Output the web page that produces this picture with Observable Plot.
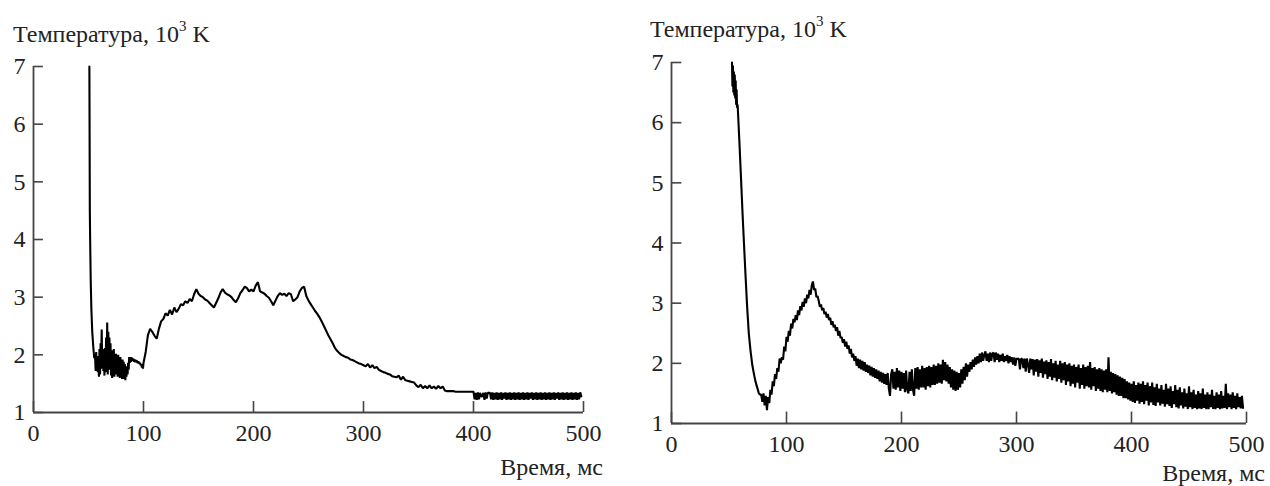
<!DOCTYPE html>
<html>
<head>
<meta charset="utf-8">
<script src="https://cdn.jsdelivr.net/npm/d3@7"></script>
<script src="https://cdn.jsdelivr.net/npm/@observablehq/plot@0.6"></script>
<style>
  body { margin: 0; background: #fff; }
  #page { position: relative; width: 1270px; height: 486px; overflow: hidden;
          font-family: "Liberation Serif", "DejaVu Serif", "Noto Serif", "Times New Roman", Times, serif; color: #222; }
  #page svg { position: absolute; top: 0; }
  .lbl { position: absolute; font-size: 24px; line-height: 24px; white-space: nowrap; }
  .lbl sup { font-size: 15px; line-height: 0; position: relative; top: -2px; }
</style>
</head>
<body>
<div id="page">
  <div class="lbl" style="left:13px; top:22px;">Температура, 10<sup>3</sup> K</div>
  <div class="lbl" style="left:650px; top:17px;">Температура, 10<sup>3</sup> K</div>
  <div class="lbl" style="right:667px; top:455px; text-align:right;">Время, мс</div>
  <div class="lbl" style="right:5px; top:461px; text-align:right;">Время, мс</div>
</div>
<script>
// Axis ticks
const timeTicks = [0, 100, 200, 300, 400, 500];
const tempTicks = [1, 2, 3, 4, 5, 6, 7];

// ---- Left record: temperature (10^3 K) vs time (ms) ----
// initial flash, irregular samples
const leftFallTime = [50.8, 51.0, 51.2, 51.5, 52.0, 52.6, 53.4, 54.3, 55.2];
const leftFallTemp = [7.0, 5.8, 4.5, 4.0, 3.3, 2.8, 2.4, 2.15, 1.95];

// 56..99.5 ms, every 0.5 ms
const leftEarlyStart = 56;
const leftEarly = [
  1.95, 1.72, 2.05, 1.80, 1.98, 1.70, 1.88, 1.62, 2.10, 1.66,
  2.20, 1.90, 2.44, 1.76, 2.10, 1.72, 1.95, 1.64, 2.12, 1.70,
  2.30, 1.78, 2.56, 1.66, 2.40, 1.74, 2.30, 1.80, 2.20, 1.64,
  2.08, 1.60, 1.98, 1.70, 2.10, 1.62, 1.96, 1.72, 2.02, 1.66,
  1.94, 1.62, 2.00, 1.68, 1.90, 1.60, 1.96, 1.66, 1.86, 1.58,
  1.92, 1.64, 1.88, 1.58, 1.84, 1.56, 1.80, 1.62, 1.76, 1.66,
  1.86, 1.74, 1.96, 1.86, 1.94, 1.88, 1.96, 1.90, 1.94, 1.89,
  1.93, 1.88, 1.92, 1.87, 1.91, 1.88, 1.90, 1.86, 1.89, 1.85,
  1.88, 1.84, 1.86, 1.82, 1.84, 1.78, 1.82, 1.76
];

// 100..350 ms, every 2 ms
const leftMidStart = 100;
const leftMid = [
  1.86, 2.05, 2.34, 2.45, 2.40, 2.33, 2.28, 2.45, 2.58, 2.62,
  2.72, 2.68, 2.78, 2.70, 2.82, 2.74, 2.80, 2.88, 2.86, 2.93,
  2.90, 2.97, 2.93, 3.05, 3.14, 3.06, 3.02, 3.00, 2.96, 2.94,
  2.90, 2.86, 2.82, 2.90, 2.98, 3.08, 3.14, 3.08, 3.05, 3.03,
  3.00, 2.95, 2.91, 2.98, 3.07, 3.12, 3.18, 3.16, 3.10, 3.13,
  3.10, 3.20, 3.26, 3.10, 3.08, 3.06, 3.02, 2.99, 2.93, 2.86,
  2.94, 3.02, 3.07, 3.04, 3.06, 3.02, 3.07, 3.05, 2.93, 2.96,
  3.00, 3.10, 3.16, 3.18, 3.02, 2.94, 2.88, 2.82, 2.76, 2.71,
  2.65, 2.58, 2.50, 2.42, 2.34, 2.27, 2.20, 2.12, 2.07, 2.03,
  2.00, 1.98, 1.96, 1.95, 1.92, 1.91, 1.89, 1.87, 1.85, 1.84,
  1.82, 1.80, 1.84, 1.78, 1.82, 1.77, 1.79, 1.74, 1.72, 1.70,
  1.69, 1.67, 1.66, 1.63, 1.62, 1.61, 1.64, 1.57, 1.62, 1.56,
  1.55, 1.54, 1.53, 1.52, 1.47, 1.44
];

// 352..398 ms, every 2 ms
const leftTailStart = 352;
const leftTail = [
  1.48, 1.42, 1.46, 1.42, 1.47, 1.42, 1.45, 1.41, 1.46, 1.42,
  1.45, 1.38, 1.37, 1.37, 1.37, 1.37, 1.36, 1.36, 1.36, 1.36,
  1.36, 1.36, 1.36, 1.36
];

// 400..498 ms, every 1 ms (digitiser toggling between two levels)
const leftFloorStart = 400;
const leftFloor = [
  1.36, 1.23, 1.34, 1.22, 1.35, 1.23, 1.34, 1.28, 1.28, 1.34,
  1.22, 1.35, 1.24, 1.34, 1.34, 1.34, 1.23, 1.35, 1.22, 1.34,
  1.23, 1.35, 1.22, 1.34, 1.23, 1.35, 1.22, 1.34, 1.24, 1.35,
  1.22, 1.34, 1.23, 1.35, 1.22, 1.34, 1.23, 1.35, 1.22, 1.34,
  1.23, 1.35, 1.22, 1.34, 1.23, 1.35, 1.22, 1.34, 1.23, 1.35,
  1.22, 1.34, 1.24, 1.35, 1.22, 1.34, 1.23, 1.35, 1.22, 1.34,
  1.23, 1.35, 1.22, 1.34, 1.23, 1.35, 1.22, 1.34, 1.23, 1.35,
  1.22, 1.34, 1.23, 1.35, 1.22, 1.34, 1.24, 1.35, 1.22, 1.34,
  1.23, 1.35, 1.22, 1.34, 1.23, 1.35, 1.22, 1.34, 1.23, 1.35,
  1.22, 1.34, 1.23, 1.35, 1.22, 1.34, 1.23, 1.35, 1.28
];

// ---- Right record ----
const rightFallTime = [52.6, 53.0, 53.4, 53.8, 54.2, 54.6, 55.0, 55.4, 55.8, 56.2, 56.6, 57.0, 57.5,
                       59.0, 60.5, 62.0, 63.0, 64.3, 65.8, 67.2, 68.7, 70.2, 71.6, 73.0, 74.5, 76.0, 77.0];
const rightFallTemp = [7.0, 6.6, 6.95, 6.5, 6.85, 6.45, 6.8, 6.4, 6.7, 6.3, 6.55, 6.25, 6.3,
                       5.7, 5.05, 4.4, 4.0, 3.49, 2.93, 2.5, 2.21, 1.98, 1.83, 1.7, 1.6, 1.5, 1.48];

// 78..127 ms, every 1 ms
const rightDipStart = 78;
const rightDip = [
  1.48, 1.36, 1.50, 1.30, 1.46, 1.22, 1.44, 1.34, 1.56, 1.48,
  1.70, 1.62, 1.82, 1.74, 1.92, 1.86, 2.08, 2.00, 2.10, 2.06,
  2.28, 2.20, 2.44, 2.36, 2.54, 2.46, 2.66, 2.58, 2.74, 2.68,
  2.80, 2.72, 2.88, 2.80, 2.95, 2.88, 3.02, 2.94, 3.08, 3.00,
  3.14, 3.08, 3.22, 3.14, 3.30, 3.36, 3.22, 3.24, 3.10, 3.12
];

// 128..257 ms, every 1 ms
const rightDecayStart = 128;
const rightDecay = [
  3.04, 2.94, 2.98, 2.88, 2.92, 2.82, 2.86, 2.76, 2.82, 2.72,
  2.76, 2.64, 2.70, 2.60, 2.64, 2.54, 2.60, 2.46, 2.54, 2.42,
  2.44, 2.34, 2.40, 2.28, 2.36, 2.24, 2.30, 2.16, 2.24, 2.10,
  2.16, 2.04, 2.12, 1.96, 2.08, 1.92, 2.06, 1.90, 2.04, 1.88,
  2.02, 1.86, 1.98, 1.84, 1.96, 1.80, 1.94, 1.78, 1.92, 1.76,
  1.90, 1.74, 1.88, 1.70, 1.86, 1.68, 1.84, 1.66, 1.82, 1.64,
  1.84, 1.58, 1.46, 1.82, 1.90, 1.58, 1.86, 1.56, 1.92, 1.60,
  1.88, 1.54, 1.86, 1.58, 1.84, 1.52, 1.88, 1.56, 1.50, 1.86,
  1.54, 1.90, 1.56, 1.46, 1.92, 1.58, 1.94, 1.56, 1.90, 1.60,
  1.96, 1.60, 1.92, 1.56, 1.94, 1.62, 1.96, 1.60, 1.94, 1.64,
  1.98, 1.64, 1.96, 1.66, 2.00, 1.68, 1.98, 1.66, 2.06, 1.72,
  2.02, 1.70, 1.98, 1.66, 1.94, 1.60, 1.90, 1.56, 1.88, 1.54,
  1.86, 1.56, 1.84, 1.60, 1.90, 1.66, 1.94, 1.72, 2.00, 1.78
];

// 258..337 ms, every 1 ms
const rightHumpStart = 258;
const rightHump = [
  1.98, 1.86, 2.02, 1.90, 2.06, 1.94, 2.10, 1.98, 2.12, 2.00,
  2.16, 2.02, 2.18, 2.04, 2.14, 2.20, 2.04, 2.16, 2.02, 2.18,
  2.04, 2.16, 2.18, 2.02, 2.18, 2.06, 2.16, 2.02, 2.14, 2.04,
  2.16, 2.02, 2.12, 2.04, 2.14, 2.00, 2.12, 2.02, 2.10, 1.98,
  2.10, 1.96, 2.08, 2.07, 2.08, 1.90, 2.08, 2.07, 1.92, 2.08,
  1.86, 2.08, 1.98, 1.84, 2.08, 1.90, 2.07, 1.80, 2.06, 1.86,
  2.07, 1.78, 2.05, 1.84, 2.08, 1.76, 2.03, 1.82, 2.05, 1.74,
  2.02, 1.78, 2.07, 1.72, 2.00, 1.76, 2.04, 1.70, 1.98, 1.74
];

// 338..497 ms, every 1 ms
const rightTailStart = 338;
const rightTail = [
  2.04, 1.68, 2.00, 1.72, 2.02, 1.64, 1.98, 1.70, 2.00, 1.62,
  1.96, 1.66, 1.98, 1.60, 1.94, 1.68, 1.98, 1.58, 1.92, 1.64,
  1.98, 1.58, 1.94, 1.62, 1.96, 1.60, 2.02, 1.56, 1.92, 1.62,
  1.94, 1.54, 1.90, 1.58, 1.92, 1.54, 1.90, 1.52, 1.88, 1.56,
  1.90, 1.52, 2.10, 1.54, 1.86, 1.50, 1.84, 1.52, 1.82, 1.48,
  1.80, 1.46, 1.78, 1.46, 1.76, 1.42, 1.74, 1.42, 1.70, 1.40,
  1.68, 1.38, 1.66, 1.36, 1.70, 1.34, 1.64, 1.38, 1.68, 1.33,
  1.66, 1.36, 1.70, 1.32, 1.64, 1.38, 1.68, 1.30, 1.62, 1.35,
  1.68, 1.31, 1.60, 1.29, 1.66, 1.35, 1.58, 1.30, 1.64, 1.33,
  1.56, 1.28, 1.66, 1.32, 1.58, 1.29, 1.62, 1.26, 1.54, 1.32,
  1.64, 1.27, 1.56, 1.25, 1.60, 1.30, 1.52, 1.25, 1.58, 1.28,
  1.50, 1.24, 1.62, 1.27, 1.52, 1.24, 1.56, 1.26, 1.48, 1.24,
  1.54, 1.25, 1.50, 1.24, 1.58, 1.26, 1.48, 1.24, 1.52, 1.24,
  1.48, 1.27, 1.56, 1.24, 1.46, 1.24, 1.52, 1.26, 1.48, 1.24,
  1.54, 1.25, 1.46, 1.26, 1.66, 1.24, 1.50, 1.27, 1.48, 1.24,
  1.52, 1.26, 1.46, 1.24, 1.50, 1.27, 1.44, 1.25, 1.46, 1.26
];

// helpers turning the arrays into {t, T} rows
const paired = (times, temps) => times.map((t, i) => ({t, T: temps[i]}));
const sampled = (start, step, temps) => temps.map((T, i) => ({t: start + i * step, T}));

const leftRows = [
  ...paired(leftFallTime, leftFallTemp),
  ...sampled(leftEarlyStart, 0.5, leftEarly),
  ...sampled(leftMidStart, 2, leftMid),
  ...sampled(leftTailStart, 2, leftTail),
  ...sampled(leftFloorStart, 1, leftFloor)
];
const rightRows = [
  ...paired(rightFallTime, rightFallTemp),
  ...sampled(rightDipStart, 1, rightDip),
  ...sampled(rightDecayStart, 1, rightDecay),
  ...sampled(rightHumpStart, 1, rightHump),
  ...sampled(rightTailStart, 1, rightTail)
];

const axisColor = "#444";
const fontStack = "'Liberation Serif', 'DejaVu Serif', 'Noto Serif', 'Times New Roman', Times, serif";

function panel(rows, {left, width, marginLeft, marginRight, marginTop, marginBottom}) {
  const svg = Plot.plot({
    width, height: 486,
    marginLeft, marginRight, marginTop, marginBottom,
    x: {domain: [0, 500]},
    y: {domain: [1, 7]},
    style: {fontFamily: fontStack, fontSize: "24px",
            color: "#222", background: "transparent", overflow: "visible"},
    marks: [
      Plot.ruleX([0], {stroke: axisColor, strokeWidth: 1.8}),
      Plot.ruleY([1], {stroke: axisColor, strokeWidth: 1.8}),
      // inward ticks
      Plot.ruleX(timeTicks, {x: d => d, y1: 1, y2: 1.19, stroke: axisColor, strokeWidth: 1.6}),
      Plot.ruleY(tempTicks, {y: d => d, x1: 0, x2: 9, stroke: axisColor, strokeWidth: 1.6}),
      Plot.axisX(timeTicks, {tickSize: 0, tickPadding: 11, fontSize: 24, label: null, tickFormat: d => String(d)}),
      Plot.axisY(tempTicks, {tickSize: 0, tickPadding: 8, fontSize: 24, label: null, tickFormat: d => String(d)}),
      Plot.line(rows, {x: "t", y: "T", stroke: "#000", strokeWidth: 2.1, strokeLinejoin: "miter"})
    ]
  });
  svg.style.left = left + "px";
  return svg;
}

const page = document.getElementById("page");
page.appendChild(panel(leftRows, {left: 0, width: 620, marginLeft: 33, marginRight: 37, marginTop: 66, marginBottom: 74}));
page.appendChild(panel(rightRows, {left: 640, width: 630, marginLeft: 31, marginRight: 24, marginTop: 62, marginBottom: 63}));
</script>
</body>
</html>
